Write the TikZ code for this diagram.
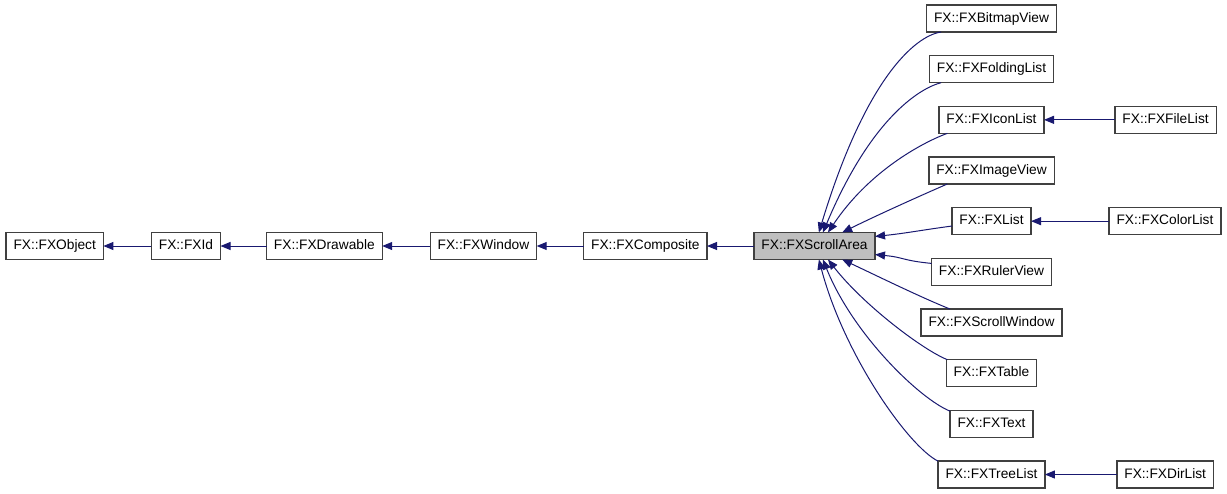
\documentclass[tikz,border=0pt]{standalone}
\usepackage{fontspec}
\setmainfont{Liberation Sans}
\usepackage{xcolor}
\usepackage{tikz}
\usetikzlibrary{positioning, arrows.meta}
\definecolor{midnightblue}{RGB}{25,25,112}
\definecolor{areagray}{RGB}{191,191,191}
\definecolor{boxline}{RGB}{64,64,64}

\begin{document}
\begin{tikzpicture}[x=0.75pt, y=-0.75pt, every node/.style={font=\fontsize{10.3pt}{12pt}\selectfont}]
		\tikzstyle{cls}=[rectangle, draw=boxline, line width=1pt, fill=white, minimum height=20.25pt, inner xsep=5.6pt, inner ysep=0pt, outer sep=0pt, text height=7.6pt, text depth=2pt]
		\tikzstyle{edge}=[draw=midnightblue, line width=0.75pt, -{Triangle[length=7.5pt,width=6pt]}]
		\useasboundingbox (0,0) rectangle (1227,493);
		
		%% base chain
		\node [cls, fill=areagray](SA) at (814.5,246) {FX::FXScrollArea};
		\node [left=35.25pt of SA, cls](Comp) {FX::FXComposite};
		\node [left=35.25pt of Comp, cls](Win) {FX::FXWindow};
		\node [left=36pt of Win, cls](Draw) {FX::FXDrawable};
		\node [left=34.5pt of Draw, cls](Id) {FX::FXId};
		\node [left=36pt of Id, cls](Obj) {FX::FXObject};
		
		%% derived classes
		\node [cls](BV) at (991.5,18.5) {FX::FXBitmapView};
		\node [below=17.75pt of BV, cls](FL) {FX::FXFoldingList};
		\node [below=17.75pt of FL, cls](IL) {FX::FXIconList};
		\node [below=17.75pt of IL, cls](IV) {FX::FXImageView};
		\node [below=17.75pt of IV, cls](Lst) {FX::FXList};
		\node [below=17.75pt of Lst, cls](RV) {FX::FXRulerView};
		\node [below=17.75pt of RV, cls](SW) {FX::FXScrollWindow};
		\node [below=17.75pt of SW, cls](Tab) {FX::FXTable};
		\node [below=17.75pt of Tab, cls](Txt) {FX::FXText};
		\node [below=17.75pt of Txt, cls](TL) {FX::FXTreeList};
		
		\node [right=53.25pt of IL, cls](FiL) {FX::FXFileList};
		\node [right=58.5pt of Lst, cls](CL) {FX::FXColorList};
		\node [right=54pt of TL, cls](DL) {FX::FXDirList};
		
		\draw [edge] (Id.west)--(Obj.east);
		\draw [edge] (Draw.west)--(Id.east);
		\draw [edge] (Win.west)--(Draw.east);
		\draw [edge] (Comp.west)--(Win.east);
		\draw [edge] (SA.west)--(Comp.east);
		
		\draw [edge] (BV.195) .. controls +(-27,4) and +(46,-152) .. (SA.72);
		\draw [edge] (FL.195) .. controls +(-23,6) and +(47,-112) .. (SA.58);
		\draw [edge] (IL.197) .. controls +(-27,10) and +(40,-60) .. (SA.45);
		\draw [edge] (IV.197) .. controls +(-30,13) and +(30,-15) .. (SA.26);
		\draw [edge] (Lst.187) .. controls +(-30,4) and +(30,-3) .. (SA.9);
		\draw [edge] (RV.172) .. controls +(-30,-3) and +(30,3) .. (SA.-8.5);
		\draw [edge] (SW.162) .. controls +(-30,-12) and +(30,14) .. (SA.-26);
		\draw [edge] (Tab.163) .. controls +(-25,-10) and +(35,45) .. (SA.-45);
		\draw [edge] (Txt.163) .. controls +(-30,-12) and +(30,75) .. (SA.-58);
		\draw [edge] (TL.166) .. controls +(-30,-15) and +(25,95) .. (SA.-72);
		
		\draw [edge] (FiL.west)--(IL.east);
		\draw [edge] (CL.west)--(Lst.east);
		\draw [edge] (DL.west)--(TL.east);
		\end{tikzpicture}
\end{document}
